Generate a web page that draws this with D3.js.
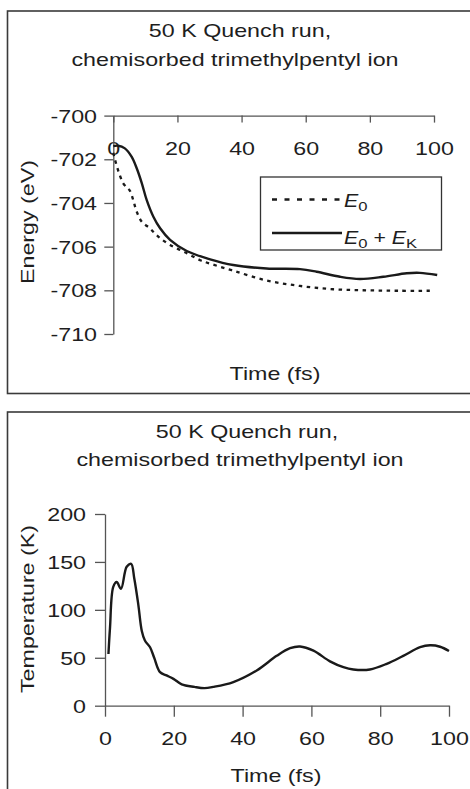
<!DOCTYPE html>
<html>
<head>
<meta charset="utf-8">
<script src="https://cdn.jsdelivr.net/npm/d3@7"></script>
<style>
  html, body { margin: 0; padding: 0; background: #fff; }
  svg { display: block; }
  text { font-family: "Liberation Sans", Arial, Helvetica, sans-serif; fill: #1e1e1e; }
</style>
</head>
<body>
<svg id="chart" width="470" height="789"></svg>
<script>
// ---- Data: 50 K quench run, chemisorbed trimethylpentyl ion ----
const titleLines = ["50 K Quench run,", "chemisorbed trimethylpentyl ion"];

// Potential energy E0 (eV) vs time (fs)
const e0Time   = [0, 0.5, 1.6, 3.1, 4.3, 5.2, 6.2, 7.3, 8.9, 11.4, 14, 17.7, 22.9, 27.1, 30.2, 37.4, 47.8, 58.2, 68.6, 79, 89, 98.7];
const e0Energy = [-701.7, -702.0, -702.55, -703.1, -703.3, -703.45, -703.86, -704.4, -704.86, -705.16, -705.54, -705.92, -706.3, -706.62, -706.78, -707.1, -707.55, -707.8, -707.95, -708.0, -708.02, -708.02];

// Total energy E0 + EK (eV) vs time (fs)
const totTime   = [0, 1.5, 3.6, 5.7, 7.3, 8.9, 10.4, 12.5, 14.6, 17.7, 22.9, 30.2, 37.4, 47.8, 58.2, 63.4, 70.7, 76.9, 84.2, 91.5, 95.6, 101];
const totEnergy = [-701.4, -701.38, -701.5, -701.88, -702.41, -703.1, -703.86, -704.63, -705.16, -705.69, -706.2, -706.58, -706.84, -707.0, -707.03, -707.15, -707.38, -707.48, -707.38, -707.22, -707.2, -707.3];

// Temperature (K) vs time (fs)
const tempTime  = [1, 1.45, 2.4, 3.4, 4.65, 6.3, 7.6, 8.5, 9.7, 10.7, 11.6, 13.1, 14.3, 16, 17.9, 19.9, 22.3, 26, 28.9, 31.5, 37.3, 44.1, 49.9, 53.8, 56.7, 60.6, 65.4, 69.3, 72.2, 77, 81.9, 86.7, 91.6, 94.5, 97.4, 100];
const tempValue = [54, 81, 124, 129, 122, 145, 148, 133, 105, 78, 68, 61, 50, 35, 31.6, 28, 22.3, 19.6, 18.3, 19.6, 24.7, 36.8, 52, 60, 61.8, 57.4, 46.3, 40.2, 37.8, 37.8, 43.7, 52, 61, 63, 61.5, 57];

const timeTicks   = [0, 20, 40, 60, 80, 100];
const energyTicks = [-700, -702, -704, -706, -708, -710];
const tempTicks   = [0, 50, 100, 150, 200];

// ---- Styling ----
const FS = 17.5;      // font size
const SX = 1.33;      // horizontal glyph stretch of the typeface used in the figure
const INK = "#1a1a1a";
const AXIS = "#555";
const plainNumber = d => String(d);   // keeps an ASCII hyphen for negatives

const svg = d3.select("#chart");

function addText(g, x, y, str, opts = {}) {
  const rot = opts.rotate || 0;
  return g.append("text")
    .attr("transform", `translate(${x},${y}) rotate(${rot}) scale(${SX},1)`)
    .attr("text-anchor", opts.anchor || "middle")
    .style("font-size", (opts.size || FS) + "px")
    .text(str);
}

function styleAxis(g) {
  g.select(".domain").attr("stroke", AXIS).attr("stroke-width", 1.3);
  g.selectAll(".tick line").attr("stroke", AXIS).attr("stroke-width", 1.3);
  g.selectAll(".tick text")
    .attr("fill", "#1e1e1e")
    .style("font-size", FS + "px")
    .style("font-family", '"Liberation Sans", Arial, sans-serif');
}

// ---- Panel frames ----
svg.append("rect").attr("x", 7.5).attr("y", 11).attr("width", 500).attr("height", 382.5)
  .attr("fill", "none").attr("stroke", "#3a3a3a").attr("stroke-width", 1.6);
svg.append("rect").attr("x", 7.5).attr("y", 412).attr("width", 500).attr("height", 420)
  .attr("fill", "none").attr("stroke", "#3a3a3a").attr("stroke-width", 1.6);

// ================= Top panel: energy =================
const energyPanel = svg.append("g");
addText(energyPanel, 240, 36.5, titleLines[0]);
addText(energyPanel, 235, 66, titleLines[1]);

const xE = d3.scaleLinear().domain([0, 100]).range([113.3, 434]);
const yE = d3.scaleLinear().domain([-700, -710]).range([115.6, 334]);

// time axis sits along the -700 eV line
const gxE = energyPanel.append("g").attr("transform", `translate(0,${yE(-700)})`)
  .call(d3.axisBottom(xE).tickValues(timeTicks).tickSizeInner(7).tickSizeOuter(0).tickPadding(20).tickFormat(plainNumber));
styleAxis(gxE);
gxE.selectAll(".tick text").attr("transform", `scale(${SX},1)`);

const gyE = energyPanel.append("g").attr("transform", `translate(${xE(0)},0)`)
  .call(d3.axisLeft(yE).tickValues(energyTicks).tickSizeInner(9).tickSizeOuter(0).tickPadding(7).tickFormat(plainNumber));
styleAxis(gyE);
gyE.selectAll(".tick text").attr("transform", `scale(${SX},1)`).attr("x", -16.3 / SX).attr("dy", "0.38em");

addText(energyPanel, 33.5, 222, "Energy (eV)", { rotate: -90 });
addText(energyPanel, 275, 380, "Time (fs)");

const lineE = d3.line().curve(d3.curveCatmullRom.alpha(0.5));
energyPanel.append("path")
  .attr("d", lineE(e0Time.map((t, i) => [xE(t), yE(e0Energy[i])])))
  .attr("fill", "none").attr("stroke", INK).attr("stroke-width", 2.3)
  .attr("stroke-dasharray", "3.5,4.5");
energyPanel.append("path")
  .attr("d", lineE(totTime.map((t, i) => [xE(t), yE(totEnergy[i])])))
  .attr("fill", "none").attr("stroke", INK).attr("stroke-width", 2.4);

// legend
const leg = energyPanel.append("g");
leg.append("rect").attr("x", 260.5).attr("y", 177).attr("width", 181).attr("height", 73)
  .attr("fill", "#fff").attr("stroke", "#333").attr("stroke-width", 1.3);
leg.append("line").attr("x1", 272).attr("x2", 343).attr("y1", 199.5).attr("y2", 199.5)
  .attr("stroke", INK).attr("stroke-width", 2.4).attr("stroke-dasharray", "5,7.5");
leg.append("line").attr("x1", 272).attr("x2", 342).attr("y1", 233).attr("y2", 233)
  .attr("stroke", INK).attr("stroke-width", 2.4);

const LSX = 1.22;
function legendLabel(y, parts) {
  const t = leg.append("text")
    .attr("transform", `translate(344,${y}) scale(${LSX},1)`)
    .style("font-size", FS + "px");
  parts.forEach(p => {
    const s = t.append("tspan").text(p.s);
    if (p.italic) s.style("font-style", "italic");
    if (p.sub) s.style("font-size", (FS * 0.78) + "px").attr("dy", 3.5);
    if (p.up) s.attr("dy", -3.5);
  });
}
legendLabel(207, [{ s: "E", italic: true }, { s: "0", sub: true }]);
legendLabel(244, [{ s: "E", italic: true }, { s: "0", sub: true }, { s: " + ", up: true }, { s: "E", italic: true }, { s: "K", sub: true }]);

// ================= Bottom panel: temperature =================
const tempPanel = svg.append("g");
addText(tempPanel, 247, 437.5, titleLines[0]);
addText(tempPanel, 240, 466, titleLines[1]);

const xT = d3.scaleLinear().domain([0, 100]).range([105, 449]);
const yT = d3.scaleLinear().domain([0, 200]).range([705.7, 514]);

const gxT = tempPanel.append("g").attr("transform", `translate(0,${yT(0)})`)
  .call(d3.axisBottom(xT).tickValues(timeTicks).tickSizeInner(11).tickSizeOuter(0).tickPadding(16).tickFormat(plainNumber));
styleAxis(gxT);
gxT.selectAll(".tick text").attr("transform", `scale(${SX},1)`);

const gyT = tempPanel.append("g").attr("transform", `translate(${xT(0)},0)`)
  .call(d3.axisLeft(yT).tickValues(tempTicks).tickSizeInner(10).tickSizeOuter(0).tickPadding(9).tickFormat(plainNumber));
styleAxis(gyT);
gyT.selectAll(".tick text").attr("transform", `scale(${SX},1)`).attr("x", -19 / SX).attr("dy", "0.38em");

addText(tempPanel, 33.5, 609, "Temperature (K)", { rotate: -90 });
addText(tempPanel, 276, 782, "Time (fs)");

tempPanel.append("path")
  .attr("d", d3.line().curve(d3.curveCatmullRom.alpha(0.5))(tempTime.map((t, i) => [xT(t), yT(tempValue[i])])))
  .attr("fill", "none").attr("stroke", INK).attr("stroke-width", 2.4);
</script>
</body>
</html>
